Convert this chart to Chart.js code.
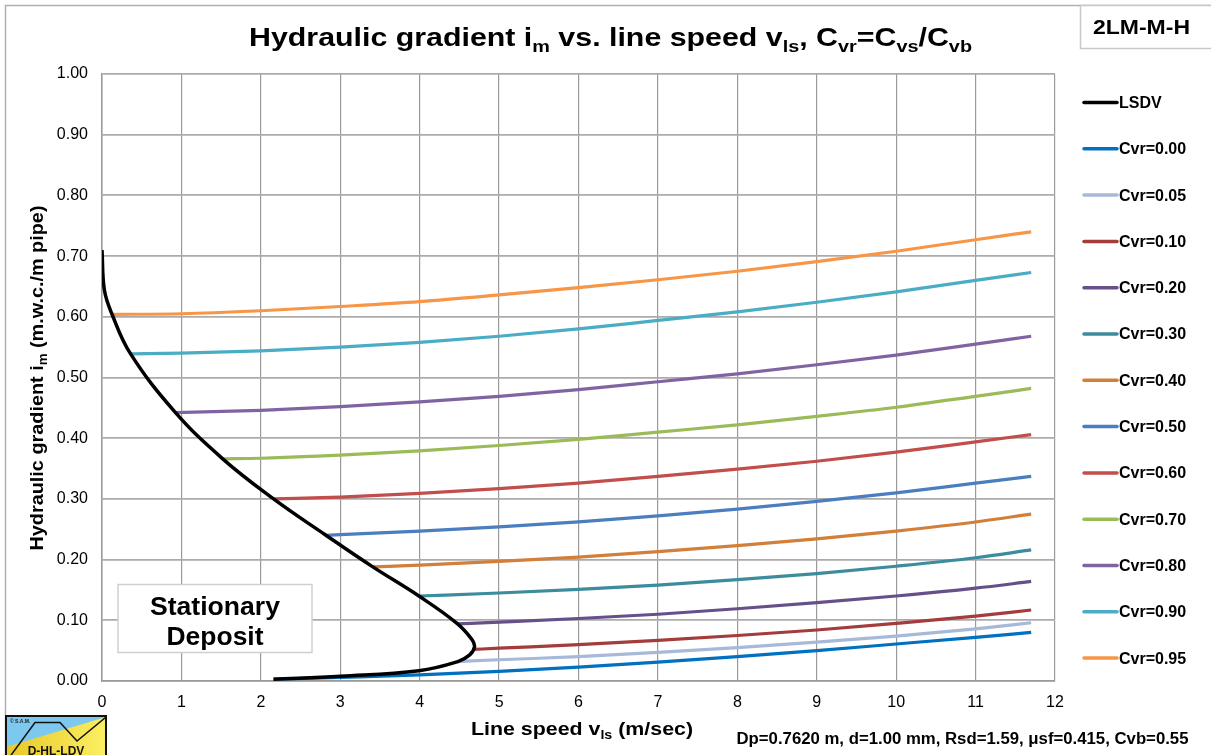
<!DOCTYPE html>
<html>
<head>
<meta charset="utf-8">
<title>Hydraulic gradient vs. line speed</title>
<script src="https://cdn.jsdelivr.net/npm/chart.js@4.4.1/dist/chart.umd.min.js"></script>
<style>
  html, body { margin: 0; padding: 0; background: #fff; }
  #wrap { position: relative; width: 1211px; height: 755px; }
</style>
</head>
<body>
<div id="wrap"><canvas id="chart" width="1211" height="755"></canvas></div>
<script>
  // ---- data ----
  const seriesLabels = ['LSDV', 'Cvr=0.00', 'Cvr=0.05', 'Cvr=0.10', 'Cvr=0.20', 'Cvr=0.30', 'Cvr=0.40',
                        'Cvr=0.50', 'Cvr=0.60', 'Cvr=0.70', 'Cvr=0.80', 'Cvr=0.90', 'Cvr=0.95'];
  const seriesColors = ['#000000', '#0070C0', '#A7B9D8', '#A33C3A', '#67508A', '#3C8C9E', '#D27F3A',
                        '#4A7EBE', '#C24E4C', '#9BBB59', '#8064A2', '#4BACC6', '#F79646'];

  // LSDV curve (limit of stationary deposit velocity), upper branch, nose, lower branch
  const lsdvSpeed    = [0.00, 0.03, 0.13, 0.36, 0.92, 1.52, 2.16, 2.81, 3.41, 3.99, 4.47,
                        4.66, 4.69, 4.63, 4.48, 3.99, 3.00, 2.16];
  const lsdvGradient = [0.710, 0.644, 0.603, 0.539, 0.443, 0.366, 0.300, 0.241, 0.188, 0.140, 0.095,
                        0.068, 0.056, 0.043, 0.032, 0.017, 0.008, 0.003];

  const cvr000Speed = [2.16, 3, 4, 5, 6, 7, 8, 9, 10, 11, 11.7];
  const cvr000Grad  = [0.003, 0.006, 0.010, 0.016, 0.023, 0.031, 0.040, 0.050, 0.061, 0.072, 0.080];
  const cvr005Speed = [4.48, 5, 6, 7, 8, 9, 10, 11, 11.7];
  const cvr005Grad  = [0.032, 0.035, 0.040, 0.047, 0.055, 0.064, 0.074, 0.086, 0.096];
  const cvr010Speed = [4.68, 5, 6, 7, 8, 9, 10, 11, 11.7];
  const cvr010Grad  = [0.052, 0.054, 0.060, 0.067, 0.075, 0.084, 0.095, 0.107, 0.117];
  const cvr020Speed = [4.47, 5, 6, 7, 8, 9, 10, 11, 11.7];
  const cvr020Grad  = [0.094, 0.097, 0.103, 0.110, 0.119, 0.129, 0.140, 0.153, 0.164];
  const cvr030Speed = [3.99, 5, 6, 7, 8, 9, 10, 11, 11.7];
  const cvr030Grad  = [0.140, 0.145, 0.151, 0.158, 0.167, 0.177, 0.189, 0.203, 0.216];
  const cvr040Speed = [3.41, 4, 5, 6, 7, 8, 9, 10, 11, 11.7];
  const cvr040Grad  = [0.188, 0.191, 0.197, 0.204, 0.213, 0.223, 0.234, 0.247, 0.262, 0.275];
  const cvr050Speed = [2.81, 3, 4, 5, 6, 7, 8, 9, 10, 11, 11.7];
  const cvr050Grad  = [0.240, 0.241, 0.247, 0.254, 0.262, 0.272, 0.283, 0.296, 0.310, 0.326, 0.337];
  const cvr060Speed = [2.16, 3, 4, 5, 6, 7, 8, 9, 10, 11, 11.7];
  const cvr060Grad  = [0.300, 0.303, 0.309, 0.317, 0.326, 0.337, 0.349, 0.362, 0.377, 0.394, 0.406];
  const cvr070Speed = [1.52, 2, 3, 4, 5, 6, 7, 8, 9, 10, 11, 11.7];
  const cvr070Grad  = [0.366, 0.367, 0.372, 0.379, 0.388, 0.398, 0.410, 0.422, 0.436, 0.451, 0.469, 0.482];
  const cvr080Speed = [0.92, 2, 3, 4, 5, 6, 7, 8, 9, 10, 11, 11.7];
  const cvr080Grad  = [0.442, 0.446, 0.452, 0.460, 0.469, 0.480, 0.493, 0.506, 0.521, 0.537, 0.555, 0.568];
  const cvr090Speed = [0.36, 1, 2, 3, 4, 5, 6, 7, 8, 9, 10, 11, 11.7];
  const cvr090Grad  = [0.539, 0.540, 0.544, 0.550, 0.558, 0.568, 0.580, 0.594, 0.608, 0.624, 0.641, 0.660, 0.673];
  const cvr095Speed = [0.13, 1, 2, 3, 4, 5, 6, 7, 8, 9, 10, 11, 11.7];
  const cvr095Grad  = [0.604, 0.605, 0.610, 0.617, 0.625, 0.636, 0.648, 0.661, 0.675, 0.691, 0.708, 0.727, 0.740];

  const speedTicks = [0, 1, 2, 3, 4, 5, 6, 7, 8, 9, 10, 11, 12];
  const gradientTicks = [0, 0.1, 0.2, 0.3, 0.4, 0.5, 0.6, 0.7, 0.8, 0.9, 1.0];

  const FONT = '"Liberation Sans", Arial, sans-serif';

  // ---- helpers ----
  const zip = (xs, ys) => xs.map((x, i) => ({ x: x, y: ys[i] }));

  const seriesPoints = [
    zip(lsdvSpeed, lsdvGradient),
    zip(cvr000Speed, cvr000Grad), zip(cvr005Speed, cvr005Grad), zip(cvr010Speed, cvr010Grad),
    zip(cvr020Speed, cvr020Grad), zip(cvr030Speed, cvr030Grad), zip(cvr040Speed, cvr040Grad),
    zip(cvr050Speed, cvr050Grad), zip(cvr060Speed, cvr060Grad), zip(cvr070Speed, cvr070Grad),
    zip(cvr080Speed, cvr080Grad), zip(cvr090Speed, cvr090Grad), zip(cvr095Speed, cvr095Grad)
  ];

  // text made of normal and subscript pieces, centred on (0,0) baseline, optionally squeezed to a width
  function drawRich(ctx, parts, size, targetWidth) {
    const big = 'bold ' + size + 'px ' + FONT;
    const small = 'bold ' + Math.round(size * 0.66) + 'px ' + FONT;
    const widths = parts.map(p => { ctx.font = p.sub ? small : big; return ctx.measureText(p.t).width; });
    const total = widths.reduce((a, b) => a + b, 0);
    const sx = targetWidth ? targetWidth / total : 1;
    ctx.save();
    ctx.scale(sx, 1);
    ctx.textAlign = 'left';
    ctx.textBaseline = 'alphabetic';
    ctx.fillStyle = '#000';
    let x = -total / 2;
    parts.forEach((p, i) => {
      ctx.font = p.sub ? small : big;
      ctx.fillText(p.t, x, p.sub ? size * 0.22 : 0);
      x += widths[i];
    });
    ctx.restore();
  }

  function textAt(ctx, parts, cx, cy, size, width, angle) {
    ctx.save();
    ctx.translate(cx, cy);
    if (angle) ctx.rotate(angle);
    drawRich(ctx, parts, size, width);
    ctx.restore();
  }

  // ---- legend on the right ----
  const sideLegend = {
    id: 'sideLegend',
    afterDraw(chart) {
      const ctx = chart.ctx;
      ctx.save();
      chart.data.datasets.forEach((ds, i) => {
        const y = 102.5 + i * 46.3;
        ctx.strokeStyle = ds.borderColor;
        ctx.lineWidth = 3.5;
        ctx.lineCap = 'round';
        ctx.beginPath();
        ctx.moveTo(1084, y);
        ctx.lineTo(1117, y);
        ctx.stroke();
        ctx.fillStyle = '#000';
        ctx.font = 'bold 16px ' + FONT;
        ctx.textAlign = 'left';
        ctx.textBaseline = 'middle';
        ctx.fillText(ds.label, 1119, y + 1);
      });
      ctx.restore();
    }
  };

  // ---- frame, titles, notes and logo ----
  const decorations = {
    id: 'decorations',
    beforeDraw(chart) {
      const ctx = chart.ctx;
      ctx.save();
      ctx.fillStyle = '#fff';
      ctx.fillRect(0, 0, chart.width, chart.height);
      ctx.strokeStyle = '#B0B0B0';
      ctx.lineWidth = 1.5;
      ctx.strokeRect(5.5, 5.5, 1300, 900);
      ctx.restore();
    },
    afterDraw(chart) {
      const ctx = chart.ctx;
      ctx.save();

      // tag box
      ctx.fillStyle = '#fff';
      ctx.fillRect(1080.5, 5.5, 200, 43);
      ctx.strokeStyle = '#C8C8C8';
      ctx.lineWidth = 1.5;
      ctx.strokeRect(1080.5, 5.5, 200, 43);
      textAt(ctx, [{ t: '2LM-M-H' }], 1141.5, 34, 21, 97);

      // main title
      textAt(ctx, [
        { t: 'Hydraulic gradient i' }, { t: 'm', sub: true },
        { t: ' vs. line speed v' }, { t: 'ls', sub: true },
        { t: ', C' }, { t: 'vr', sub: true },
        { t: '=C' }, { t: 'vs', sub: true },
        { t: '/C' }, { t: 'vb', sub: true }
      ], 610.5, 46, 26, 723);

      // axis titles
      textAt(ctx, [{ t: 'Hydraulic gradient i' }, { t: 'm', sub: true }, { t: ' (m.w.c./m pipe)' }],
             43, 378, 18, 345, -Math.PI / 2);
      textAt(ctx, [{ t: 'Line speed v' }, { t: 'ls', sub: true }, { t: ' (m/sec)' }], 582, 735, 18, 222);

      // parameters note
      textAt(ctx, [{ t: 'Dp=0.7620 m, d=1.00 mm, Rsd=1.59, \u03BCsf=0.415, Cvb=0.55' }], 962.5, 744, 16, 452);

      // stationary deposit label
      ctx.fillStyle = '#fff';
      ctx.fillRect(118, 584.5, 194, 68);
      ctx.strokeStyle = '#CFCFCF';
      ctx.lineWidth = 1.5;
      ctx.strokeRect(118, 584.5, 194, 68);
      textAt(ctx, [{ t: 'Stationary' }], 215, 615, 25, 130);
      textAt(ctx, [{ t: 'Deposit' }], 215, 645, 25, 97);

      // logo
      const lx = 6, ly = 716, lw = 100;
      ctx.save();
      ctx.beginPath();
      ctx.rect(lx, ly, lw, 60);
      ctx.clip();
      ctx.fillStyle = '#7CC8EE';
      ctx.fillRect(lx, ly, lw, 60);
      const g = ctx.createLinearGradient(lx, 0, lx + lw, 0);
      g.addColorStop(0, '#E8C828');
      g.addColorStop(1, '#FBEF62');
      ctx.fillStyle = g;
      ctx.beginPath();
      ctx.moveTo(lx, 747);
      ctx.lineTo(lx + lw, 717);
      ctx.lineTo(lx + lw, 780);
      ctx.lineTo(lx, 780);
      ctx.closePath();
      ctx.fill();
      ctx.strokeStyle = '#111';
      ctx.lineWidth = 1.5;
      ctx.beginPath();
      ctx.moveTo(lx, 762);
      ctx.lineTo(35, 722.5);
      ctx.lineTo(60, 722.5);
      ctx.lineTo(77, 741);
      ctx.lineTo(lx + lw, 717);
      ctx.stroke();
      ctx.fillStyle = '#222';
      ctx.font = 'bold 5px ' + FONT;
      ctx.textAlign = 'left';
      ctx.fillText('\u00A9 S.A.M.', lx + 4, ly + 7);
      ctx.fillStyle = '#111';
      ctx.font = 'bold 12px ' + FONT;
      ctx.textAlign = 'center';
      ctx.fillText('D-HL-LDV', 56, 755);
      ctx.restore();
      ctx.strokeStyle = '#111';
      ctx.lineWidth = 2;
      ctx.strokeRect(lx, ly, lw, 60);

      ctx.restore();
    }
  };

  const datasets = seriesLabels.map((label, i) => ({
    label: label,
    data: seriesPoints[i],
    showLine: true,
    borderColor: seriesColors[i],
    backgroundColor: seriesColors[i],
    borderWidth: i === 0 ? 3.5 : 3.2,
    pointRadius: 0,
    tension: 0.4,
    cubicInterpolationMode: i === 0 ? 'default' : 'monotone',
    fill: false
  }));

  new Chart(document.getElementById('chart'), {
    type: 'scatter',
    data: { datasets: datasets },
    options: {
      responsive: false,
      animation: false,
      layout: { padding: { top: 74, right: 156, left: 0, bottom: 0 } },
      plugins: {
        legend: { display: false },
        title: { display: false },
        tooltip: { enabled: false }
      },
      scales: {
        x: {
          type: 'linear',
          min: speedTicks[0],
          max: speedTicks[speedTicks.length - 1],
          afterBuildTicks: s => { s.ticks = speedTicks.map(v => ({ value: v })); },
          ticks: { color: '#000', font: { family: FONT, size: 16 }, padding: 12, callback: v => String(v), maxRotation: 0 },
          grid: { color: '#9A9A9A', lineWidth: 1.2, drawTicks: false },
          border: { color: '#9A9A9A', width: 1.5 },
          afterFit: s => { s.height = 74; }
        },
        y: {
          type: 'linear',
          min: gradientTicks[0],
          max: gradientTicks[gradientTicks.length - 1],
          afterBuildTicks: s => { s.ticks = gradientTicks.map(v => ({ value: v })); },
          ticks: { color: '#000', font: { family: FONT, size: 16 }, padding: 14, callback: v => Number(v).toFixed(2) },
          grid: { color: '#ABABAB', lineWidth: 1.8, drawTicks: false },
          border: { color: '#9A9A9A', width: 1.5 },
          afterFit: s => { s.width = 102; }
        }
      }
    },
    plugins: [decorations, sideLegend]
  });
</script>
</body>
</html>
